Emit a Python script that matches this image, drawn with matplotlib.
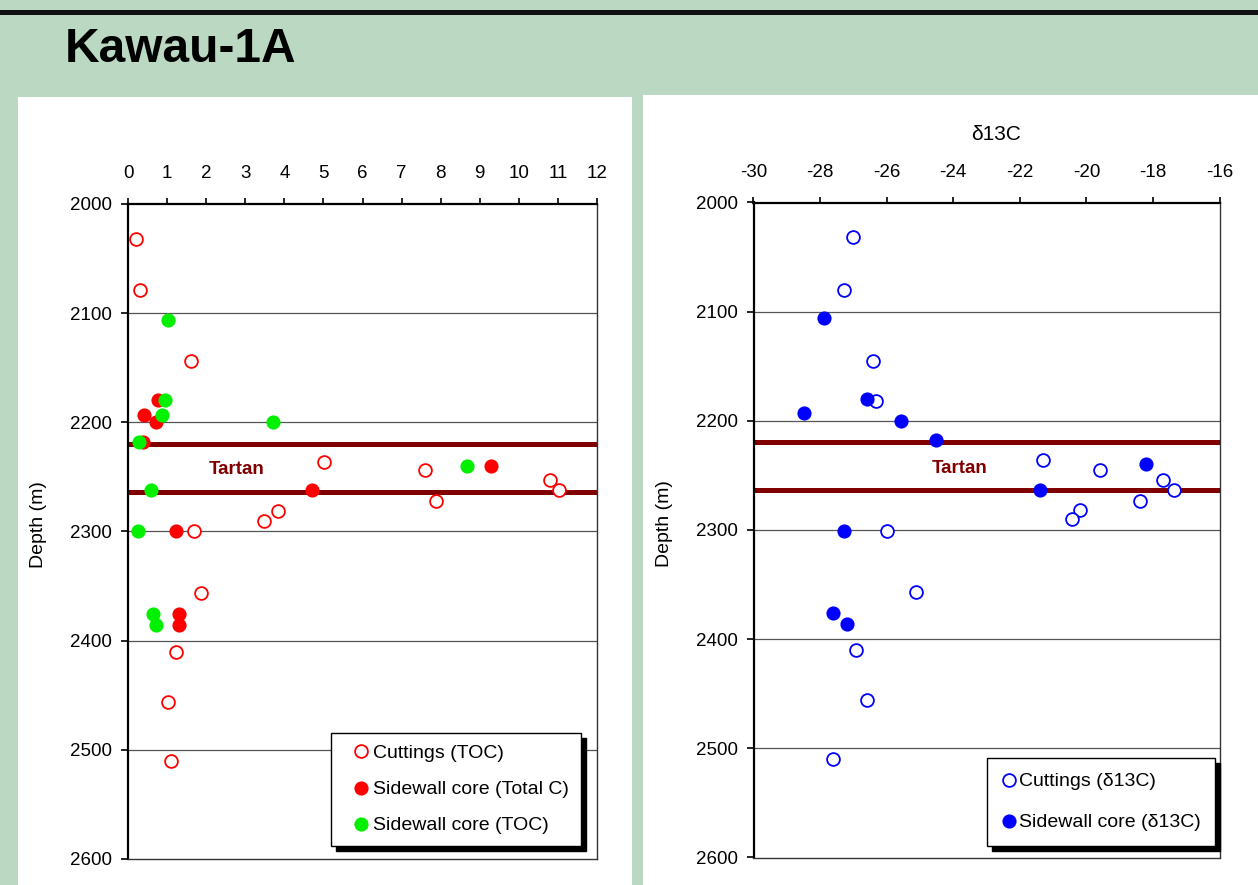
import matplotlib
matplotlib.use('Agg')
import matplotlib.pyplot as plt
from matplotlib.patches import Rectangle
from matplotlib.lines import Line2D

plt.rcParams['font.family'] = ['Liberation Sans', 'DejaVu Sans']
plt.rcParams['axes.unicode_minus'] = False

# depth ticks shared by both panels
depth_ticks = [2000, 2100, 2200, 2300, 2400, 2500, 2600]
tartan_top = 2219.5
tartan_base = 2263.5

# left panel: carbon content (%)
cut_toc = [0.20, 0.31, 1.61, 5.02, 7.60, 7.88, 10.79, 11.02, 3.83, 3.49, 1.70, 1.88, 1.22, 1.02, 1.10]
cut_toc_depth = [2032, 2079, 2144, 2236, 2244, 2272, 2253, 2262, 2281, 2290, 2300, 2356, 2410, 2456, 2510]
swc_totc = [0.78, 0.40, 0.71, 0.39, 9.30, 4.71, 1.23, 1.30, 1.30]
swc_totc_depth = [2180, 2193, 2200, 2218, 2240, 2262, 2300, 2376, 2386]
swc_toc = [1.03, 0.95, 0.86, 3.72, 0.28, 8.67, 0.59, 0.25, 0.63, 0.72]
swc_toc_depth = [2106, 2180, 2193, 2200, 2218, 2240, 2262, 2300, 2376, 2386]
left_xticks = list(range(0, 13))

# right panel: delta 13C
cut_d13c = [-27.00, -27.28, -26.41, -26.31, -21.29, -19.59, -17.70, -17.37, -18.39, -20.19, -20.42,
            -26.00, -25.12, -26.91, -26.60, -27.60]
cut_d13c_depth = [2032, 2080, 2145, 2182, 2236, 2245, 2254, 2263, 2273, 2282, 2290,
                  2301, 2357, 2410, 2456, 2510]
swc_d13c = [-27.88, -26.60, -28.47, -25.57, -24.52, -18.21, -21.38, -27.28, -27.60, -27.18]
swc_d13c_depth = [2106, 2180, 2193, 2200, 2218, 2240, 2263, 2301, 2376, 2386]
right_xticks = list(range(-30, -15, 2))

W, H = 1258, 885
bg = '#BBD8C2'
tartan_col = '#800000'
red, green, blue = '#FF0000', '#00F000', '#0000FF'

fig = plt.figure(figsize=(W / 100, H / 100), dpi=100, facecolor=bg)

# black rule at the top and white panels (behind the axes)
fig.patches.append(Rectangle((0, 1 - 15 / H), 1, 5.5 / H, transform=fig.transFigure,
                             facecolor='#111111', edgecolor='none', zorder=-5))
fig.patches.append(Rectangle((18 / W, 0), 614 / W, (H - 97) / H, transform=fig.transFigure,
                             facecolor='white', edgecolor='none', zorder=-5))
fig.patches.append(Rectangle((643 / W, 0), (W - 643) / W, (H - 95) / H, transform=fig.transFigure,
                             facecolor='white', edgecolor='none', zorder=-5))

fig.text(65 / W, 1 - 62 / H, 'Kawau-1A', fontsize=34.5, fontweight='bold', va='baseline')

axL = fig.add_axes([128 / W, 1 - 859 / H, 469 / W, 655 / H])
axR = fig.add_axes([753.5 / W, 1 - 857.5 / H, 466 / W, 655 / H])


def style(ax, xlim, xticks):
    ax.set_facecolor('white')
    ax.set_xlim(*xlim)
    ax.set_ylim(2600, 2000)
    ax.set_xticks(xticks)
    ax.set_yticks(depth_ticks)
    ax.xaxis.tick_top()
    ax.tick_params(axis='x', direction='out', length=4.5, width=1.2, pad=11, labelsize=13.5)
    ax.tick_params(axis='y', direction='out', length=4.8, width=1.2, pad=6.5, labelsize=13.5)
    for s in ['left', 'top']:
        ax.spines[s].set_linewidth(1.6)
    for s in ['right', 'bottom']:
        ax.spines[s].set_linewidth(1.0)
        ax.spines[s].set_color('#333333')
    for d in depth_ticks[1:-1]:
        ax.axhline(d, color='#555555', lw=0.9, zorder=1)
    ax.axhline(tartan_top, color=tartan_col, lw=3.6, zorder=2)
    ax.axhline(tartan_base, color=tartan_col, lw=3.6, zorder=2)
    ax.set_ylabel('Depth (m)', fontsize=14)
    ax.yaxis.set_label_coords(-0.172, 0.51)


style(axL, (0, 12), left_xticks)
style(axR, (-30, -16), right_xticks)

ms_open = 9.2
ms_fill = 10.2

axL.plot(cut_toc, cut_toc_depth, 'o', ms=ms_open, mfc='white', mec=red, mew=1.3, zorder=3)
axL.plot(swc_totc, swc_totc_depth, 'o', ms=ms_fill, mfc=red, mec=red, mew=0, zorder=4)
axL.plot(swc_toc, swc_toc_depth, 'o', ms=ms_fill, mfc=green, mec=green, mew=0, zorder=5)
axL.text(2.78, 2243, 'Tartan', ha='center', va='center', fontsize=13.5,
         fontweight='bold', color=tartan_col, zorder=6)

axR.plot(cut_d13c, cut_d13c_depth, 'o', ms=ms_open, mfc='white', mec=blue, mew=1.3, zorder=3)
axR.plot(swc_d13c, swc_d13c_depth, 'o', ms=ms_fill, mfc=blue, mec=blue, mew=0, zorder=4)
axR.text(-23.82, 2244, 'Tartan', ha='center', va='center', fontsize=13.5,
         fontweight='bold', color=tartan_col, zorder=6)
axR.set_xlabel('\u03b413C', fontsize=15)
axR.xaxis.set_label_position('top')
axR.xaxis.set_label_coords(0.52, 1.095)

shadow = {'color': 'black', 'alpha': 1, 'ox': 3.6, 'oy': -3.6}

hL = [Line2D([], [], ls='none', marker='o', ms=ms_open, mfc='white', mec=red, mew=1.3),
      Line2D([], [], ls='none', marker='o', ms=ms_fill, mfc=red, mec=red, mew=0),
      Line2D([], [], ls='none', marker='o', ms=ms_fill, mfc=green, mec=green, mew=0)]
legL = axL.legend(hL, ['Cuttings (TOC)', 'Sidewall core (Total C)', 'Sidewall core (TOC)'],
                  loc='upper left', bbox_to_anchor=(0.432, 0.193), borderaxespad=0,
                  fontsize=14, fancybox=False, edgecolor='black', framealpha=1,
                  borderpad=0.62, labelspacing=0.95, handlelength=1.86, handletextpad=-0.28,
                  shadow=shadow)
legL.get_frame().set_linewidth(1.0)
legL.set_zorder(10)

hR = [Line2D([], [], ls='none', marker='o', ms=ms_open, mfc='white', mec=blue, mew=1.3),
      Line2D([], [], ls='none', marker='o', ms=ms_fill, mfc=blue, mec=blue, mew=0)]
legR = axR.legend(hR, ['Cuttings (\u03b413C)', 'Sidewall core (\u03b413C)'],
                  loc='upper left', bbox_to_anchor=(0.5005, 0.1515), borderaxespad=0,
                  fontsize=14, fancybox=False, edgecolor='black', framealpha=1,
                  borderpad=0.75, labelspacing=1.2, handlelength=0.8, handletextpad=0.1,
                  shadow=shadow)
legR.get_frame().set_linewidth(1.0)
legR.set_zorder(10)

fig.savefig('out.png', dpi=100, facecolor=bg)
